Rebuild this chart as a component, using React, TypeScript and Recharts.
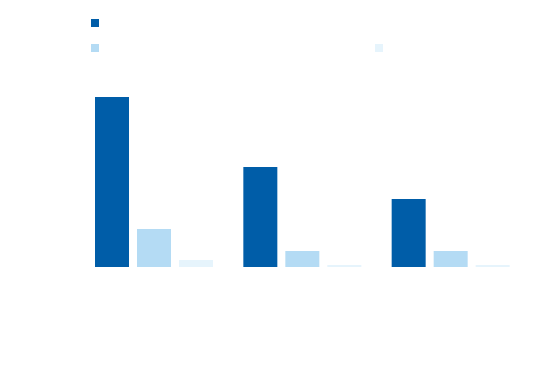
import React from "react";
import { BarChart, Bar, XAxis, YAxis, Legend } from "recharts";

const categories = ["A", "B", "C"];
const seriesNames = ["Series 1", "Series 2", "Series 3"];
const series1 = [85, 50, 34];
const series2 = [19, 8, 8];
const series3 = [3.5, 1, 1];
const colors = ["#005da8", "#b4dbf4", "#e6f4fc"];

const data = categories.map((c, i) => ({
  name: c,
  s1: series1[i],
  s2: series2[i],
  s3: series3[i],
}));

const legendPos = [
  { left: 91, top: 19 },
  { left: 91, top: 44 },
  { left: 375, top: 44 },
];

const renderLegend = () => (
  <div style={{ position: "relative", width: 550, height: 60 }}>
    {seriesNames.map((n, i) => (
      <div
        key={n}
        style={{
          position: "absolute",
          left: legendPos[i].left,
          top: legendPos[i].top,
          display: "flex",
          alignItems: "center",
          fontFamily: "Roboto, sans-serif",
          fontSize: 12,
          color: "#ffffff",
          lineHeight: "8px",
        }}
      >
        <span
          style={{
            display: "inline-block",
            width: 8,
            height: 8,
            background: colors[i],
            marginRight: 6,
          }}
        />
        <span>{n}</span>
      </div>
    ))}
  </div>
);

export default function App() {
  return (
    <div style={{ width: 550, height: 370, background: "#fff" }}>
      <style>{`body{margin:0}`}</style>
      <BarChart
        width={550}
        height={370}
        data={data}
        margin={{ top: 67, left: 80, right: 25, bottom: 43 }}
        barCategoryGap={15}
        barGap={8}
      >
        <XAxis dataKey="name" hide />
        <YAxis hide domain={[0, 100]} />
        <Legend
          content={renderLegend}
          wrapperStyle={{ position: "absolute", top: 0, left: 0, width: 550, height: 60 }}
        />
        <Bar dataKey="s1" name={seriesNames[0]} fill={colors[0]} isAnimationActive={false} />
        <Bar dataKey="s2" name={seriesNames[1]} fill={colors[1]} isAnimationActive={false} />
        <Bar dataKey="s3" name={seriesNames[2]} fill={colors[2]} isAnimationActive={false} />
      </BarChart>
    </div>
  );
}
